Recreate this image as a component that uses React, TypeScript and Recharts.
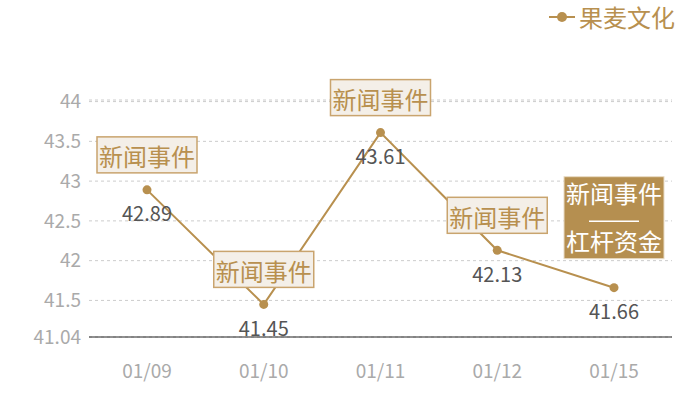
import React from 'react';
import { LineChart, Line, XAxis, YAxis, CartesianGrid, LabelList } from 'recharts';

const dates = ['01/09', '01/10', '01/11', '01/12', '01/15'];
const prices = [42.89, 41.45, 43.61, 42.13, 41.66];
const eventKinds = ['news', 'news', 'news', 'news', 'newsLeverage'];
const yTicks = [41.04, 41.5, 42, 42.5, 43, 43.5, 44, 44.02];
const yDomain = [41.04, 44.02];
const seriesName = '果麦文化';
const newsText = '新闻事件';
const leverageText = '杠杆资金';

const data = dates.map((d, i) => ({ date: d, value: prices[i], kind: eventKinds[i] }));

const GOLD = '#b8904f';
const FONT = '"Noto Sans CJK SC", "Noto Sans", sans-serif';

const renderLabel = (props: any) => {
  const { x, y, value, index } = props;
  const kind = eventKinds[index];
  const boxW = 100;
  const els: any[] = [];
  els.push(
    <text key="v" x={x} y={y + 23} textAnchor="middle" dominantBaseline="central" fill="#555" fontSize={20} fontFamily={FONT}>
      {value}
    </text>
  );
  if (kind === 'news') {
    const h = 36;
    const top = y - 17 - h;
    els.push(
      <g key="b">
        <rect x={x - boxW / 2} y={top} width={boxW} height={h} fill="#f4efe8" stroke="#c9a46e" strokeWidth={1.5} />
        <text x={x} y={top + h / 2 + 1} textAnchor="middle" dominantBaseline="central" fill={GOLD} fontSize={24} fontFamily={FONT}>
          {newsText}
        </text>
      </g>
    );
  } else {
    const h = 82;
    const top = y - 29 - h;
    els.push(
      <g key="b">
        <rect x={x - boxW / 2} y={top} width={boxW} height={h} fill="#b58f50" stroke="#e9dcc6" strokeWidth={1} />
        <text x={x} y={top + 16} textAnchor="middle" dominantBaseline="central" fill="#fff" fontSize={24} fontFamily={FONT}>
          {newsText}
        </text>
        <line x1={x - 25} x2={x + 25} y1={top + 44.5} y2={top + 44.5} stroke="#fff" strokeWidth={1.5} />
        <text x={x} y={top + 64} textAnchor="middle" dominantBaseline="central" fill="#fff" fontSize={24} fontFamily={FONT}>
          {leverageText}
        </text>
      </g>
    );
  }
  return <g>{els}</g>;
};

export default function App() {
  return (
    <div style={{ width: 700, height: 400, background: '#fff', position: 'relative' }}>
      <style>{`body{margin:0}`}</style>
      <div style={{ position: 'absolute', top: 5, right: 25, display: 'flex', alignItems: 'center', fontFamily: FONT, zIndex: 2 }}>
        <svg width={26} height={12} style={{ marginRight: 4 }}>
          <line x1={0} x2={26} y1={6} y2={6} stroke={GOLD} strokeWidth={2} />
          <circle cx={13} cy={6} r={5} fill={GOLD} />
        </svg>
        <span style={{ color: GOLD, fontSize: 24, lineHeight: '24px' }}>{seriesName}</span>
      </div>
      <LineChart width={700} height={400} data={data} margin={{ top: 100, right: 28, left: 0, bottom: 13 }}>
        <CartesianGrid horizontal vertical={false} stroke="#ccc" strokeDasharray="3 3" />
        <XAxis
          dataKey="date"
          axisLine={{ stroke: '#222', strokeWidth: 1 }}
          tickLine={false}
          tickSize={0}
          tickMargin={28}
          height={50}
          padding={{ left: 58, right: 58 }}
          tick={{ fill: '#aaa', fontSize: 19, fontFamily: FONT }}
        />
        <YAxis
          type="number"
          domain={yDomain}
          ticks={yTicks}
          interval={0}
          width={89}
          axisLine={false}
          tickLine={false}
          tickFormatter={(v: number) => (v === 44.02 ? '' : String(v))}
          tick={{ fill: '#aaa', fontSize: 19, fontFamily: FONT }}
        />
        <Line
          type="linear"
          dataKey="value"
          name={seriesName}
          stroke={GOLD}
          strokeWidth={2}
          dot={{ r: 4.5, fill: GOLD, stroke: GOLD, strokeWidth: 0 }}
          activeDot={false}
          isAnimationActive={false}
        >
          <LabelList dataKey="value" content={renderLabel} />
        </Line>
      </LineChart>
    </div>
  );
}
